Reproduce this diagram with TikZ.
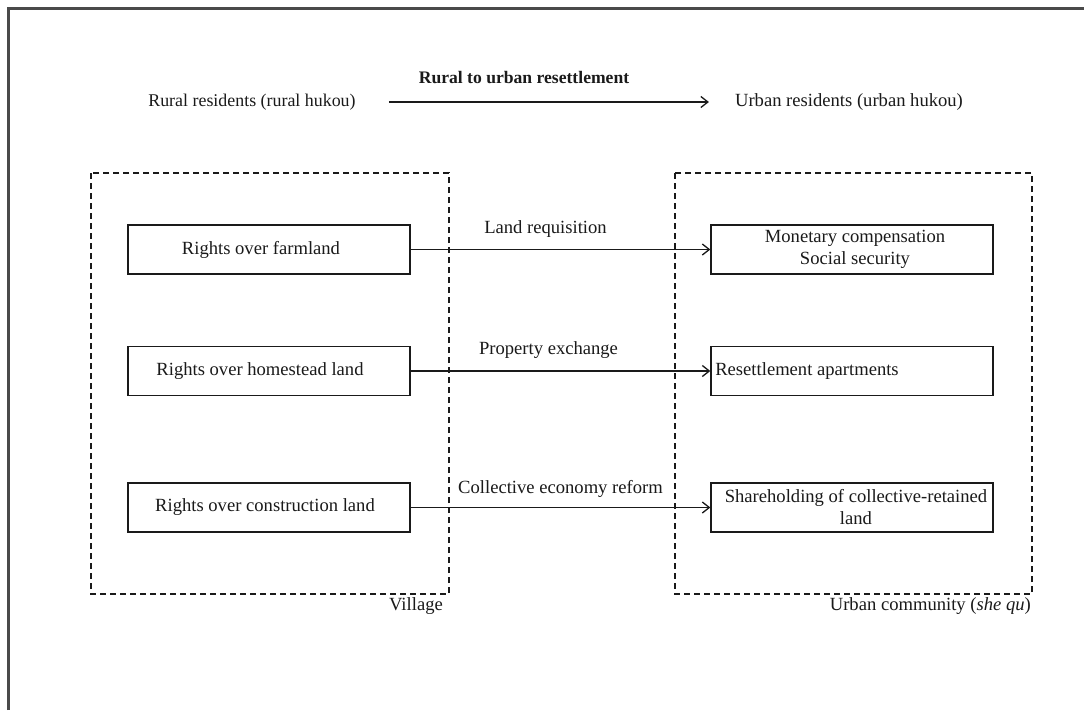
\documentclass[tikz,border=0pt]{standalone}
\usepackage{fontspec}
\setmainfont{Liberation Serif}
\usetikzlibrary{arrows.meta}
\definecolor{ink}{HTML}{1A1A1A}
\definecolor{framegray}{HTML}{4A4A4A}
\begin{document}
\begin{tikzpicture}[x=1pt,y=-1pt,
  every node/.style={text=ink,font=\fontsize{18.6}{22}\selectfont},
  rightsbox/.style={draw=ink,line width=1.3pt,minimum width=282pt,minimum height=49pt,inner sep=2pt,align=center},
  areabox/.style={draw=ink,line width=1.4pt,dash pattern=on 6pt off 4pt},
  flow/.style={draw=ink,line width=1.3pt,-{Straight Barb[length=7pt,width=11pt,line width=1.3pt]}},
  flowlabel/.style={inner sep=0pt}]
\useasboundingbox (0,0) rectangle (1084,710);
\fill[white] (0,0) rectangle (1084,710);

% outer frame (top and left edges)
\draw[framegray,line width=3pt] (8,710) -- (8,8) -- (1084,8);

% heading
\node[font=\fontsize{17.6}{22}\selectfont\bfseries] (title) at (524,77) {Rural to urban resettlement};
\node[inner sep=0pt,font=\fontsize{17.9}{22}\selectfont] (rural) at (252,102) {Rural residents (rural hukou)};
\node[inner sep=0pt] (urban) at (849,102) {Urban residents (urban hukou)};
\draw[flow,shorten <=33pt,shorten >=26pt] (rural.east) -- (urban.west);

% dashed areas
\draw[areabox] (91,173) rectangle (449,594);
\draw[areabox] (675,173) rectangle (1032,594);
\node[inner sep=0pt,anchor=east] (village) at (443,606) {Village};
\node[inner sep=0pt,anchor=east] (community) at (1031,606) {Urban community (\textit{she qu})};

% rights held in the village
\node[rightsbox] (farm) at (269,249.5) {\hspace*{-16pt}Rights over farmland};
\node[rightsbox] (home) at (269,371) {\hspace*{-18pt}Rights over homestead land};
\node[rightsbox] (cons) at (269,507.5) {\hspace*{-8pt}Rights over construction land};

% what they become in the urban community
\node[rightsbox] (money) at (852,249.5) {\hspace*{6pt}Monetary compensation\\\hspace*{6pt}Social security};
\node[rightsbox] (apart) at (852,371) {\hspace*{-90pt}Resettlement apartments};
\node[rightsbox] (share) at (852,507.5) {\hspace*{8pt}Shareholding of collective-retained\\\hspace*{8pt}land};

% transfers
\draw[flow] (farm) -- node[flowlabel,pos=0.45,above=11pt] (lreq) {Land requisition} (money);
\draw[flow] (home) -- node[flowlabel,pos=0.46,above=12pt] (pex) {Property exchange} (apart);
\draw[flow] (cons) -- node[flowlabel,pos=0.5,above=9pt] (cer) {Collective economy reform} (share);
\end{tikzpicture}
\end{document}
